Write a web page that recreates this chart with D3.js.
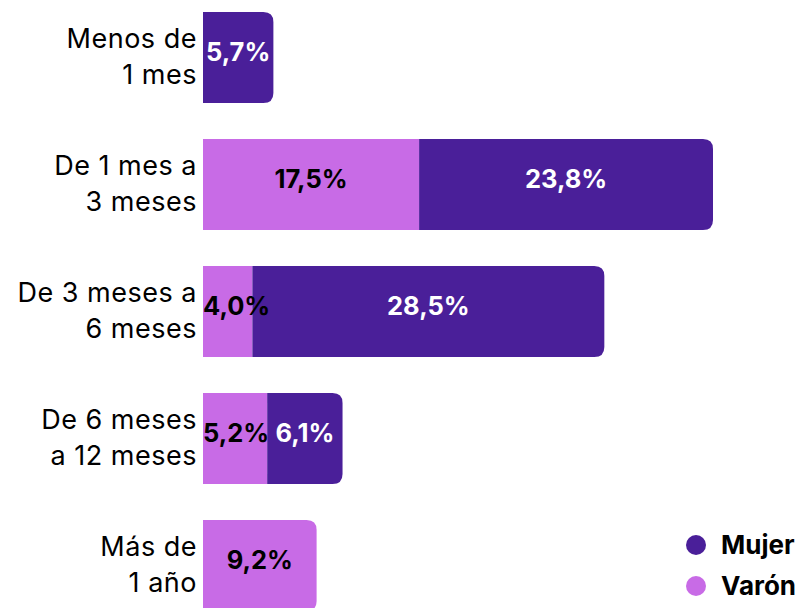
<!DOCTYPE html>
<html>
<head>
<meta charset="utf-8">
<script src="https://cdn.jsdelivr.net/npm/d3@7"></script>
<style>
  body { margin: 0; background: #fff; }
  svg { font-family: Inter, "Noto Sans", sans-serif; }
</style>
</head>
<body>
<svg id="viz" width="799" height="608"></svg>
<script>
// Data
const categories = ['Menos de|1 mes', 'De 1 mes a|3 meses', 'De 3 meses a|6 meses', 'De 6 meses|a 12 meses', 'Más de|1 año']
const varon = [0, 17.5, 4.0, 5.2, 9.2]
const mujer = [5.7, 23.8, 28.5, 6.1, 0]
const seriesNames = ['Varón', 'Mujer']
const legendOrder = ['Mujer', 'Varón']

const colors = { 'Mujer': '#4a1f99', 'Varón': '#c86be6' }
const textColors = { 'Mujer': '#ffffff', 'Varón': '#000000' }

const svg = d3.select('#viz')
const fmt = v => v.toFixed(1).replace('.', ',') + '%'

// Build table for the stack
const rows = categories.map((c, i) => ({ cat: c, 'Varón': varon[i], 'Mujer': mujer[i] }))
const stack = d3.stack().keys(seriesNames)(rows)

const x = d3.scaleLinear()
    .domain([0, d3.max(rows, d => d['Varón'] + d['Mujer'])])
    .range([203, 713])

// step 127, bar 91
const y = d3.scaleBand()
    .domain(categories)
    .range([12, 611])
    .paddingInner(36 / 127)
    .paddingOuter(0)

// Last non-empty segment of each row gets rounded right corners
const lastKey = rows.map(r => r['Mujer'] > 0 ? 'Mujer' : 'Varón')

const r = 10
let segPath = (x0, x1, y0, h, round) => {
    if (!round) return `M${x0},${y0}H${x1}V${y0 + h}H${x0}Z`
    return `M${x0},${y0}H${x1 - r}Q${x1},${y0} ${x1},${y0 + r}V${y0 + h - r}Q${x1},${y0 + h} ${x1 - r},${y0 + h}H${x0}Z`
}

const barG = svg.append('g')
const labelG = svg.append('g')

stack.forEach(layer => {
    const key = layer.key
    layer.forEach((d, i) => {
        if (d[1] - d[0] <= 0) return
        const x0 = x(d[0]), x1 = x(d[1])
        const y0 = y(categories[i]), h = y.bandwidth()
        barG.append('path')
            .attr('d', segPath(x0, x1, y0, h, lastKey[i] === key))
            .attr('fill', colors[key])

        // value labels sit a little above the bar middle
        const t = labelG.append('text')
            .attr('y', y0 + h / 2 - 6)
            .attr('dy', '0.36em')
            .attr('text-anchor', 'middle')
            .attr('font-weight', 700)
            .attr('font-size', 25.5)
            .attr('fill', textColors[key])
            .text(fmt(d[1] - d[0]))
        // keep narrow labels from spilling left of the bar
        const w = t.node().getComputedTextLength()
        t.attr('x', Math.max((x0 + x1) / 2, x0 + w / 2))
    })
})

// Category labels
categories.forEach(c => {
    const lines = c.split('|')
    const cy = y(c) + y.bandwidth() / 2 - 1
    svg.append('text')
        .attr('text-anchor', 'end')
        .attr('font-size', 27)
        .attr('letter-spacing', 0.5)
        .attr('fill', '#000')
        .selectAll('tspan')
        .data(lines)
        .enter()
        .append('tspan')
        .attr('x', 197)
        .attr('y', (d, i) => cy + (i - (lines.length - 1) / 2) * 36)
        .attr('dy', '0.36em')
        .text(d => d)
})

// Legend
const legend = svg.append('g')
legendOrder.forEach((k, i) => {
    const ly = 545 + i * 41
    legend.append('circle')
        .attr('cx', 696)
        .attr('cy', ly)
        .attr('r', 10)
        .attr('fill', colors[k])
    legend.append('text')
        .attr('x', 721)
        .attr('y', ly)
        .attr('dy', '0.36em')
        .attr('font-size', 26)
        .attr('font-weight', 700)
        .text(k)
})
</script>
</body>
</html>
